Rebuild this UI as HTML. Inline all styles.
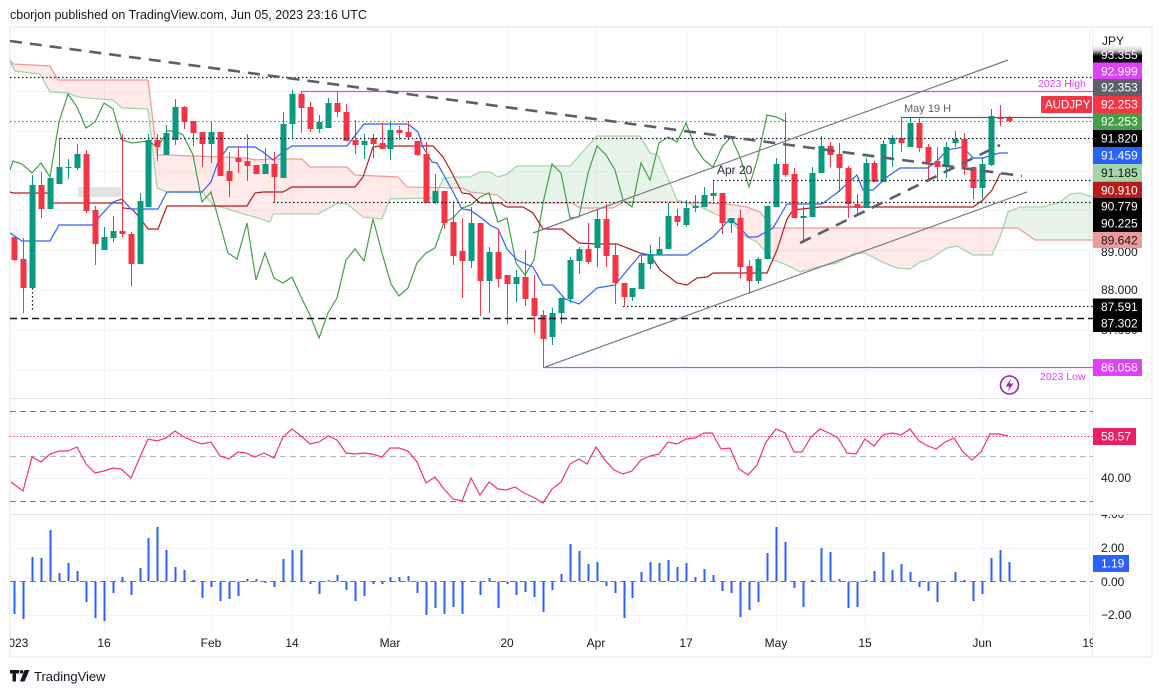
<!DOCTYPE html>
<html><head><meta charset="utf-8"><style>
html,body{margin:0;padding:0;background:#fff;}
svg{display:block;}
text{font-family:"Liberation Sans",Arial,sans-serif;}
</style></head><body>
<svg width="1163" height="693" viewBox="0 0 1163 693" xmlns="http://www.w3.org/2000/svg">
<defs>
<clipPath id="cm"><rect x="10" y="27" width="1083" height="371"/></clipPath>
<clipPath id="cr"><rect x="10" y="398" width="1083" height="116"/></clipPath>
<clipPath id="ch"><rect x="10" y="515" width="1083" height="115"/></clipPath>
<clipPath id="ct"><rect x="10" y="630" width="1083" height="27"/></clipPath>
<clipPath id="cax"><rect x="1093" y="515" width="59" height="115"/></clipPath>
<clipPath id="cred"><rect x="10" y="27" width="429.5" height="371"/><rect x="683" y="27" width="320.5" height="371"/></clipPath>
<clipPath id="cgrn"><rect x="439.5" y="27" width="243.5" height="371"/><rect x="1003.5" y="27" width="90" height="371"/></clipPath>
<linearGradient id="fade" x1="0" y1="0" x2="0" y2="1"><stop offset="0" stop-color="#fff" stop-opacity="1"/><stop offset="0.45" stop-color="#fff" stop-opacity="0.85"/><stop offset="1" stop-color="#fff" stop-opacity="0"/></linearGradient>
</defs>

<!-- header -->
<text x="10" y="19" font-size="12.5" fill="#131722">cborjon published on TradingView.com, Jun 05, 2023 23:16 UTC</text>

<!-- frame -->
<rect x="10" y="27" width="1142" height="630" fill="#fff" stroke="#e0e3eb" stroke-width="1"/>

<!-- grid -->
<g stroke="#f0f3fa" stroke-width="1">
<path d="M14.5 27V630M104.5 27V630M211.5 27V630M292.5 27V630M390.5 27V630M507.5 27V630M596.5 27V630M686.5 27V630M776.5 27V630M865.5 27V630M982.5 27V630M1089.5 27V630"/>
<path d="M10 91.5H1093M10 131.5H1093M10 171.5H1093M10 210.5H1093M10 250.5H1093M10 290.5H1093M10 330.5H1093M10 370.5H1093"/>
<path d="M10 433.5H1093M10 478.5H1093"/>
<path d="M10 548.5H1093M10 615.5H1093"/>
</g>

<!-- pane separators -->
<path d="M10 398.5H1152M10 514.5H1152" stroke="#e0e3eb" stroke-width="1"/>
<path d="M1092.5 27V657" stroke="#eef0f4" stroke-width="1"/>

<g clip-path="url(#cm)">
<!-- cloud fill -->
<g>
<polygon clip-path="url(#cred)" fill="#f44336" fill-opacity="0.11" points="10,62 15,71 40,74 50,92 68,93 78,97 87,98 113,100 122,108 148,109 157,188 167,192 202,192 213,205 228,209 247,215 255,217 270,222 273,214 318,214 338,203 347,204 363,217 382,219 390,199 432,198 437,192 443,179 452,177 470,177 480,172 490,172 498,177 507,174 517,166 570,166 597,136 640,136 650,153 658,155 677,200 687,203 703,208 713,213 730,220 743,235 757,242 773,260 787,265 800,272 817,267 837,263 855,253 865,253 882,262 897,268 910,269 920,262 930,259 947,248 957,246 973,255 992,255 1000,237 1008,212 1020,207 1043,207 1060,202 1070,194 1080,193 1093,197 1093,240 1035,240 1018,228 773,228 760,212 747,207 727,204 707,203 677,202 623,202 613,208 580,208 572,203 507,203 497,195 470,192 462,188 407,187 398,177 355,175 347,167 310,167 302,159 270,159 255,160 247,158 167,155 157,155 148,80 58,80 50,66 13,64 10,60"/>
<polygon clip-path="url(#cgrn)" fill="#43a047" fill-opacity="0.12" points="10,62 15,71 40,74 50,92 68,93 78,97 87,98 113,100 122,108 148,109 157,188 167,192 202,192 213,205 228,209 247,215 255,217 270,222 273,214 318,214 338,203 347,204 363,217 382,219 390,199 432,198 437,192 443,179 452,177 470,177 480,172 490,172 498,177 507,174 517,166 570,166 597,136 640,136 650,153 658,155 677,200 687,203 703,208 713,213 730,220 743,235 757,242 773,260 787,265 800,272 817,267 837,263 855,253 865,253 882,262 897,268 910,269 920,262 930,259 947,248 957,246 973,255 992,255 1000,237 1008,212 1020,207 1043,207 1060,202 1070,194 1080,193 1093,197 1093,240 1035,240 1018,228 773,228 760,212 747,207 727,204 707,203 677,202 623,202 613,208 580,208 572,203 507,203 497,195 470,192 462,188 407,187 398,177 355,175 347,167 310,167 302,159 270,159 255,160 247,158 167,155 157,155 148,80 58,80 50,66 13,64 10,60"/>
</g>
<polyline fill="none" stroke="#a5d6a7" stroke-width="1.3" points="10,62 15,71 40,74 50,92 68,93 78,97 87,98 113,100 122,108 148,109 157,188 167,192 202,192 213,205 228,209 247,215 255,217 270,222 273,214 318,214 338,203 347,204 363,217 382,219 390,199 432,198 437,192 443,179 452,177 470,177 480,172 490,172 498,177 507,174 517,166 570,166 597,136 640,136 650,153 658,155 677,200 687,203 703,208 713,213 730,220 743,235 757,242 773,260 787,265 800,272 817,267 837,263 855,253 865,253 882,262 897,268 910,269 920,262 930,259 947,248 957,246 973,255 992,255 1000,237 1008,212 1020,207 1043,207 1060,202 1070,194 1080,193 1093,197"/>
<polyline fill="none" stroke="#ef9a9a" stroke-width="1.3" points="10,60 13,64 50,66 58,80 148,80 157,155 167,155 247,158 255,160 270,159 302,159 310,167 347,167 355,175 398,177 407,187 462,188 470,192 497,195 507,203 572,203 580,208 613,208 623,202 677,202 707,203 727,204 747,207 760,212 773,228 1018,228 1035,240 1093,240"/>

<rect x="78" y="187" width="43" height="10" fill="#e3e3e5"/>

<!-- chikou -->
<polyline fill="none" stroke="#43a047" stroke-width="1.2" points="10,170 13,161 22,164 32,173 41,163 50,177 59,122 68,94 77,107 86,128 95,122 104,103 113,109 122,140 132,143 148,141 158,147 167,131 175,131 183,135 193,155 202,202 211,192 228,253 237,259 247,223 256,280 265,253 274,278 283,283 292,277 301,297 310,315 319,338 328,313 337,298 346,260 355,249 364,261 373,219 382,253 391,284 399,296 408,288 417,263 426,253 435,248 444,222 453,218 462,208 471,205 480,197 489,193 498,222 507,218 516,263 525,275 534,260 543,203 552,164 561,173 570,218 579,217 588,173 597,146 606,155 615,170 623,200 632,207 641,163 650,180 659,143 668,137 677,142 686,123 695,147 704,160 713,167 722,147 731,137 740,157 749,187 758,157 767,115 776,117 785,121"/>
<!-- kijun -->
<polyline fill="none" stroke="#b71c1c" stroke-width="1.2" points="10,192 13,193 50,193 53,203 122,203 123,208 132,209 140,218 148,229 158,229 167,206 247,206 255,193 263,192 283,192 292,187 355,187 363,177 373,147 380,146 433,146 443,157 452,173 462,193 470,194 480,203 500,203 507,207 523,207 533,213 543,229 562,229 579,243 597,244 617,244 640,253 650,255 660,270 677,283 687,285 697,278 707,277 713,273 767,273 777,250 787,219 793,210 820,207 973,207 983,200 992,190 1000,174 1008,174"/>
<!-- tenkan -->
<polyline fill="none" stroke="#2962ff" stroke-width="1.2" points="10,233 22,241 50,241 59,225 92,225 113,202 122,199 131,209 158,209 167,192 202,192 211,182 218,162 228,147 255,147 263,152 273,160 283,152 292,146 347,146 364,124 408,124 418,132 423,147 432,162 437,163 452,190 462,209 470,210 480,217 490,225 498,229 507,249 517,260 533,267 543,285 553,285 565,299 579,304 597,288 615,285 640,255 687,255 713,237 730,219 740,227 748,237 757,237 773,228 787,204 822,204 838,192 857,175 863,190 873,190 887,177 900,168 928,168 937,161 947,150 963,147 973,158 983,158 992,155 1000,153 1008,153"/>

<!-- candles -->
<path stroke="#089981" stroke-width="1" fill="none" d="M32.5 175V288M50.5 178V209M59.5 138V184M68.5 159V179M77.5 144V170M104.5 227V250M113.5 216V242M140.5 193V264M148.5 134V207M166.5 125V155M175.5 99V145M211.5 122V163M265.5 148V174M283.5 112V178M292.5 90V138M319.5 115V133M328.5 98V128M364.5 134V159M390.5 122V160M435.5 174V204M471.5 207V268M489.5 247V313M516.5 270V302M552.5 308V345M561.5 298V323M570.5 257V303M579.5 247V274M597.5 210V267M632.5 288V301M641.5 253V289M650.5 245V269M659.5 237V255M668.5 203V249M686.5 200V227M695.5 195V212M704.5 187V207M713.5 180V201M731.5 218V233M758.5 257V284M767.5 206V259M776.5 158V207M803.5 206V243M812.5 167V217M821.5 136V173M866.5 158V208M883.5 140V182M892.5 135V167M910.5 117V147M946.5 142V178M955.5 131V147M982.5 157V199M991.5 109V166"/>
<path fill="#089981" d="M29.5 185h6V288h-6ZM47.5 178h6V209h-6ZM56.5 167h6V184h-6ZM65.5 167h6V168h-6ZM74.5 154h6V168h-6ZM101.5 237h6V250h-6ZM110.5 231h6V238h-6ZM137.5 201h6V264h-6ZM145.5 140h6V207h-6ZM163.5 133h6V155h-6ZM172.5 107h6V140h-6ZM208.5 132h6V144h-6ZM262.5 164h6V174h-6ZM280.5 124h6V178h-6ZM289.5 94h6V124h-6ZM316.5 122h6V129h-6ZM325.5 103h6V128h-6ZM361.5 141h6V145h-6ZM387.5 130h6V149h-6ZM432.5 191h6V203h-6ZM468.5 223h6V261h-6ZM486.5 252h6V281h-6ZM513.5 277h6V284h-6ZM549.5 313h6V337h-6ZM558.5 298h6V313h-6ZM567.5 260h6V299h-6ZM576.5 249h6V261h-6ZM594.5 219h6V248h-6ZM629.5 288h6V297h-6ZM638.5 263h6V289h-6ZM647.5 254h6V264h-6ZM656.5 249h6V255h-6ZM665.5 216h6V249h-6ZM683.5 208h6V225h-6ZM692.5 206h6V208h-6ZM701.5 195h6V207h-6ZM710.5 193h6V196h-6ZM728.5 218h6V223h-6ZM755.5 259h6V281h-6ZM764.5 206h6V259h-6ZM773.5 164h6V207h-6ZM800.5 216h6V218h-6ZM809.5 173h6V217h-6ZM818.5 146h6V173h-6ZM863.5 163h6V208h-6ZM880.5 144h6V182h-6ZM889.5 138h6V144h-6ZM907.5 123h6V147h-6ZM943.5 147h6V167h-6ZM952.5 139h6V143h-6ZM979.5 164h6V188h-6ZM988.5 116h6V165h-6Z"/>
<path stroke="#f23645" stroke-width="1" fill="none" d="M14.5 237V261M23.5 238V313M41.5 172V218M86.5 150V213M95.5 206V265M122.5 134V237M131.5 232V286M157.5 134V161M184.5 106V129M193.5 121V146M202.5 132V167M220.5 132V176M229.5 152V197M238.5 147V173M247.5 134V181M256.5 165V174M274.5 152V202M301.5 92V133M310.5 102V132M337.5 92V117M346.5 104V141M355.5 120V154M373.5 134V158M382.5 123V149M399.5 126V140M408.5 121V140M417.5 141V156M426.5 142V203M444.5 191V229M453.5 201V265M462.5 218V298M480.5 223V316M498.5 230V287M507.5 275V324M525.5 250V306M534.5 275V333M543.5 310V367M588.5 223V264M606.5 204V267M615.5 243V304M624.5 283V306M677.5 209V226M722.5 193V234M740.5 210V279M749.5 260V294M785.5 113V177M794.5 168V218M830.5 142V167M839.5 143V192M848.5 166V218M857.5 194V214M874.5 161V182M901.5 117V152M919.5 117V152M928.5 144V180M937.5 147V180M964.5 133V175M973.5 167V199M1000.5 105V126M1009.5 116V122"/>
<path fill="#f23645" d="M11.5 237h6V260h-6ZM20.5 259h6V288h-6ZM38.5 185h6V209h-6ZM83.5 154h6V211h-6ZM92.5 210h6V244h-6ZM119.5 231h6V234h-6ZM128.5 234h6V264h-6ZM154.5 140h6V147h-6ZM181.5 107h6V122h-6ZM190.5 121h6V133h-6ZM199.5 132h6V144h-6ZM217.5 132h6V176h-6ZM226.5 171h6V181h-6ZM235.5 158h6V162h-6ZM244.5 161h6V166h-6ZM253.5 165h6V174h-6ZM271.5 164h6V177h-6ZM298.5 94h6V108h-6ZM307.5 107h6V129h-6ZM334.5 103h6V112h-6ZM343.5 112h6V141h-6ZM352.5 140h6V145h-6ZM370.5 138h6V144h-6ZM379.5 143h6V149h-6ZM396.5 130h6V133h-6ZM405.5 132h6V137h-6ZM414.5 141h6V155h-6ZM423.5 154h6V203h-6ZM441.5 191h6V223h-6ZM450.5 222h6V256h-6ZM459.5 251h6V261h-6ZM477.5 223h6V281h-6ZM495.5 252h6V279h-6ZM504.5 275h6V284h-6ZM522.5 277h6V299h-6ZM531.5 298h6V316h-6ZM540.5 315h6V339h-6ZM585.5 249h6V262h-6ZM603.5 219h6V256h-6ZM612.5 255h6V283h-6ZM621.5 283h6V297h-6ZM674.5 216h6V222h-6ZM719.5 193h6V223h-6ZM737.5 218h6V267h-6ZM746.5 266h6V281h-6ZM782.5 164h6V175h-6ZM791.5 174h6V218h-6ZM827.5 146h6V155h-6ZM836.5 154h6V168h-6ZM845.5 168h6V204h-6ZM854.5 204h6V208h-6ZM871.5 163h6V182h-6ZM898.5 138h6V143h-6ZM916.5 123h6V148h-6ZM925.5 147h6V162h-6ZM934.5 161h6V167h-6ZM961.5 139h6V167h-6ZM970.5 167h6V188h-6ZM997.5 117h6V119h-6ZM1006.5 117h6V121h-6Z"/>

<!-- horizontal levels -->
<path d="M10 77.5H1093" stroke="#131722" stroke-width="1.2" stroke-dasharray="1.5 2.5"/>
<path d="M301 91.5H1093" stroke="#e040fb" stroke-width="1.2"/>
<path d="M902 117.5H1093" stroke="#5d606b" stroke-width="1.2"/>
<path d="M10 121.5H1093" stroke="#f23645" stroke-width="1" stroke-dasharray="1.5 2.5"/>
<path d="M60 138.5H1093" stroke="#131722" stroke-width="1.2" stroke-dasharray="1.5 2.5"/>
<path d="M713 180.5H1093" stroke="#131722" stroke-width="1.2" stroke-dasharray="1.5 2.5"/>
<path d="M273 202.5H1093" stroke="#131722" stroke-width="1.2" stroke-dasharray="1.5 2.5"/>
<path d="M623 306.5H1093" stroke="#131722" stroke-width="1.2" stroke-dasharray="1.5 2.5"/>
<path d="M32.5 288V310" stroke="#131722" stroke-width="1.2" stroke-dasharray="1.5 2.5"/>
<path d="M10 318.5H1093" stroke="#131722" stroke-width="1.4" stroke-dasharray="7 4"/>
<path d="M543 367.5H1093" stroke="#e040fb" stroke-width="1.2"/>

<!-- trend lines -->
<path d="M10 41L1022 176" stroke="#5d606b" stroke-width="2.6" stroke-dasharray="12 8" fill="none"/>
<path d="M800 243L1000 145" stroke="#5d606b" stroke-width="2.6" stroke-dasharray="12 8" fill="none"/>
<path d="M533 233L1008 60" stroke="#787b86" stroke-width="1.2" fill="none"/>
<path d="M545 367L1027 192" stroke="#787b86" stroke-width="1.2" fill="none"/>

<text x="717" y="174" font-size="12" fill="#2a2e39">Apr 20</text>
<text x="904" y="112" font-size="11" fill="#5d606b">May 19 H</text>
<text x="1038" y="87" font-size="10.5" fill="#e040fb">2023 High</text>
<text x="1040" y="380" font-size="10.5" fill="#e040fb">2023 Low</text>
<rect x="1041" y="96" width="51" height="17" fill="#f23645" rx="1"/>
<text x="1045" y="108.5" font-size="11.5" fill="#fff">AUDJPY</text>

<circle cx="1009.5" cy="385" r="9" fill="none" stroke="#9c27b0" stroke-width="1.6"/>
<path d="M1011.5 378L1005.5 386.5H1009.5L1007.5 392L1013.5 383.5H1009.5Z" fill="#9c27b0"/>
</g>

<!-- RSI pane -->
<g clip-path="url(#cr)">
<path d="M10 411.5H1093M10 501.5H1093" stroke="#787b86" stroke-width="1" stroke-dasharray="6 4"/>
<path d="M10 456.5H1093" stroke="#b2b5be" stroke-width="1" stroke-dasharray="6 4"/>
<path d="M10 436.5H1093" stroke="#e91e63" stroke-width="1" stroke-dasharray="1.2 2.2"/>
<polyline fill="none" stroke="#f23668" stroke-width="1.2" points="11,482 23,491 32,457 41,462 50,454 59,451 68,451 77,447 86,464 95,473 104,471 113,468 121,469 131,478 140,457 148,439 157,441 166,438 175,431 184,437 193,441 202,444 211,442 220,456 229,459 238,452 246,453 255,457 264,453 274,458 283,437 292,429 301,436 310,444 319,442 328,436 337,440 346,453 355,454 364,453 372,454 382,457 390,448 399,448 408,451 417,462 426,483 435,477 444,489 453,499 462,501 471,478 480,495 489,482 498,489 506,490 515,487 524,493 533,497 543,503 552,489 561,482 570,464 579,459 587,464 596,447 605,460 614,470 623,474 632,471 641,460 650,456 659,454 668,442 677,444 686,439 695,438 704,433 712,433 721,449 730,448 739,469 748,475 757,465 766,442 776,429 785,433 794,452 802,452 811,437 820,429 829,433 838,438 847,453 856,454 865,439 874,446 883,435 892,433 901,435 910,429 919,441 928,446 936,449 945,442 954,438 963,452 972,460 981,452 990,434 999,434 1008,436"/>
</g>

<!-- Histogram pane -->
<g clip-path="url(#ch)">
<path d="M10 581.5H1093" stroke="#787b86" stroke-width="1" stroke-dasharray="6 4"/>
<path stroke="#2962ff" stroke-width="2" fill="none" d="M14.5 581.5V614M23.5 581.5V619M32.5 581.5V557M41.5 581.5V558M50.5 581.5V530M59.5 581.5V573M68.5 581.5V563M77.5 581.5V571M86.5 581.5V602M95.5 581.5V618M104.5 581.5V621M113.5 581.5V593M122.5 581.5V577M131.5 581.5V595M140.5 581.5V568M148.5 581.5V538M157.5 581.5V527M166.5 581.5V550M175.5 581.5V567M184.5 581.5V570M193.5 581.5V580M202.5 581.5V598M211.5 581.5V587M220.5 581.5V601M229.5 581.5V599M238.5 581.5V596M247.5 581.5V579M256.5 581.5V579M265.5 581.5V583M274.5 581.5V587M283.5 581.5V559M292.5 581.5V550M301.5 581.5V550M310.5 581.5V584M319.5 581.5V594M328.5 581.5V580M337.5 581.5V575M346.5 581.5V590M355.5 581.5V601M364.5 581.5V596M373.5 581.5V584M382.5 581.5V584M390.5 581.5V577M399.5 581.5V577M408.5 581.5V576M417.5 581.5V593M426.5 581.5V615M435.5 581.5V608M444.5 581.5V614M453.5 581.5V607M462.5 581.5V614M480.5 581.5V595M489.5 581.5V578M498.5 581.5V608M507.5 581.5V584M516.5 581.5V595M525.5 581.5V592M534.5 581.5V597M543.5 581.5V612M552.5 581.5V590M561.5 581.5V574M570.5 581.5V544M579.5 581.5V551M588.5 581.5V564M597.5 581.5V562M606.5 581.5V586M615.5 581.5V593M624.5 581.5V618M632.5 581.5V598M641.5 581.5V572M650.5 581.5V562M659.5 581.5V563M668.5 581.5V560M677.5 581.5V567M686.5 581.5V563M695.5 581.5V577M704.5 581.5V569M713.5 581.5V575M722.5 581.5V591M731.5 581.5V593M740.5 581.5V617M749.5 581.5V610M758.5 581.5V602M767.5 581.5V553M776.5 581.5V527M785.5 581.5V542M794.5 581.5V588M803.5 581.5V607M812.5 581.5V580M821.5 581.5V548M830.5 581.5V552M839.5 581.5V579M848.5 581.5V608M857.5 581.5V607M866.5 581.5V580M874.5 581.5V571M883.5 581.5V552M892.5 581.5V570M901.5 581.5V564M910.5 581.5V572M919.5 581.5V587M928.5 581.5V591M937.5 581.5V602M955.5 581.5V572M964.5 581.5V580M973.5 581.5V601M982.5 581.5V594M991.5 581.5V558M1000.5 581.5V550M1009.5 581.5V562"/>
</g>

<!-- time axis -->
<g clip-path="url(#ct)" font-size="12" fill="#131722" text-anchor="middle">
<text x="15" y="647">2023</text>
<text x="104" y="647">16</text>
<text x="211" y="647">Feb</text>
<text x="292" y="647">14</text>
<text x="390" y="647">Mar</text>
<text x="507" y="647">20</text>
<text x="596" y="647">Apr</text>
<text x="686" y="647">17</text>
<text x="776" y="647">May</text>
<text x="865" y="647">15</text>
<text x="982" y="647">Jun</text>
<text x="1089" y="647">19</text>
</g>

<!-- price axis plain labels -->
<g font-size="12" fill="#131722">
<text x="1102" y="45">JPY</text>
<text x="1101" y="256">89.000</text>
<text x="1101" y="294">88.000</text>
<text x="1101" y="334">87.000</text>
<text x="1101" y="482">40.00</text>
<text x="1101" y="437">60.00</text>
<text x="1101" y="552">2.00</text>
<text x="1101" y="586">0.00</text>
<text x="1101" y="619">−2.00</text>
</g>
<g clip-path="url(#cax)"><text x="1101" y="518" font-size="12" fill="#131722">4.00</text></g>

<!-- price axis boxes -->
<g font-size="12">
<rect x="1093" y="46" width="49" height="16.5" fill="#000"/><text x="1101" y="59" fill="#fff">93.355</text>
<rect x="1093" y="45" width="49" height="11" fill="url(#fade)"/>
<rect x="1093" y="62.5" width="49" height="17" fill="#e040fb"/><text x="1101" y="75.5" fill="#fff">92.999</text>
<rect x="1093" y="79" width="49" height="17" fill="#5d606b"/><text x="1101" y="91.5" fill="#fff">92.353</text>
<rect x="1093" y="96" width="49" height="17" fill="#f23645"/><text x="1101" y="108.5" fill="#fff">92.253</text>
<rect x="1093" y="113" width="49" height="17" fill="#43a047"/><text x="1101" y="125.5" fill="#fff">92.253</text>
<rect x="1093" y="130" width="49" height="17" fill="#000"/><text x="1101" y="142.5" fill="#fff">91.820</text>
<rect x="1093" y="147" width="49" height="17" fill="#2962ff"/><text x="1101" y="159.5" fill="#fff">91.459</text>
<rect x="1093" y="164" width="49" height="17" fill="#a5d6a7"/><text x="1101" y="177" fill="#131722">91.185</text>
<rect x="1093" y="181.5" width="49" height="17" fill="#b71c1c"/><text x="1101" y="194.5" fill="#fff">90.910</text>
<rect x="1093" y="198" width="49" height="17" fill="#000"/><text x="1101" y="210.5" fill="#fff">90.779</text>
<rect x="1093" y="215" width="49" height="17" fill="#000"/><text x="1101" y="227.5" fill="#fff">90.225</text>
<rect x="1093" y="232" width="49" height="16" fill="#ef9a9a"/><text x="1101" y="244.5" fill="#131722">89.642</text>
<rect x="1093" y="298.5" width="49" height="17" fill="#000"/><text x="1101" y="311" fill="#fff">87.591</text>
<rect x="1093" y="315" width="49" height="17" fill="#000"/><text x="1101" y="327.5" fill="#fff">87.302</text>
<rect x="1093" y="359" width="49" height="17" fill="#e040fb"/><text x="1101" y="371.5" fill="#fff">86.058</text>
<rect x="1093" y="428" width="43" height="17" fill="#e91e63"/><text x="1101" y="440.5" fill="#fff">58.57</text>
<rect x="1093" y="555" width="36" height="17" fill="#2962ff"/><text x="1101" y="567.5" fill="#fff">1.19</text>
</g>

<!-- footer logo -->
<g fill="#131722">
<path d="M10 670h9v3.5h-3v8h-3.5v-8H10Z"/>
<circle cx="21.5" cy="671.8" r="1.8"/>
<path d="M24.5 670h5l-5 11.5h-4.5Z"/>
</g>
<text x="34" y="681" font-size="13" fill="#131722">TradingView</text>
</svg>
</body></html>
